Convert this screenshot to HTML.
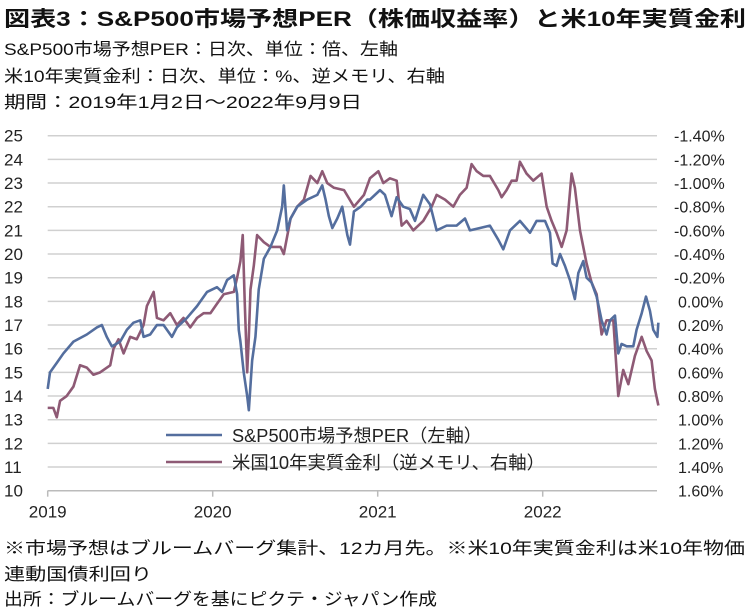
<!DOCTYPE html>
<html><head><meta charset="utf-8"><style>
body{margin:0;background:#fff;width:756px;height:608px;overflow:hidden;font-family:"Liberation Sans","Noto Sans CJK JP",sans-serif;color:#111}
.t{position:absolute;white-space:nowrap;transform-origin:0 0}
</style></head><body>
<div class="t" data-fit="742" style="left:4px;top:3px;font-size:21px;font-weight:bold">図表3：S&amp;P500市場予想PER（株価収益率）と米10年実質金利</div>
<div class="t" data-fit="394" style="left:4px;top:35px;font-size:17px">S&amp;P500市場予想PER：日次、単位：倍、左軸</div>
<div class="t" data-fit="441" style="left:4px;top:62px;font-size:17px">米10年実質金利：日次、単位：%、逆メモリ、右軸</div>
<div class="t" data-fit="358" style="left:4px;top:88px;font-size:17px">期間：2019年1月2日～2022年9月9日</div>
<div class="t" data-fit="741" style="left:4px;top:534px;font-size:17px">※市場予想はブルームバーグ集計、12カ月先。※米10年実質金利は米10年物価</div>
<div class="t" data-fit="148" style="left:4px;top:560px;font-size:17px">連動国債利回り</div>
<div class="t" data-fit="433" style="left:4px;top:585px;font-size:17px">出所：ブルームバーグを基にピクテ・ジャパン作成</div>
<svg id="chart" width="756" height="608" style="position:absolute;left:0;top:0" font-family="Liberation Sans, Noto Sans CJK JP, sans-serif"></svg>
<script>
const leftTicks=[10,11,12,13,14,15,16,17,18,19,20,21,22,23,24,25];
const rightTicks=[1.6,1.4,1.2,1.0,0.8,0.6,0.4,0.2,0.0,-0.2,-0.4,-0.6,-0.8,-1.0,-1.2,-1.4];
const yearTicks=[2019,2020,2021,2022];
const perDates=[2019,2019.014,2019.055,2019.095,2019.156,2019.237,2019.298,2019.328,2019.358,2019.389,2019.439,2019.480,2019.520,2019.561,2019.581,2019.621,2019.662,2019.702,2019.753,2019.783,2019.844,2019.905,2019.966,2020.026,2020.057,2020.087,2020.128,2020.148,2020.158,2020.168,2020.188,2020.209,2020.219,2020.239,2020.259,2020.279,2020.310,2020.350,2020.391,2020.421,2020.431,2020.451,2020.472,2020.512,2020.573,2020.634,2020.664,2020.684,2020.704,2020.725,2020.755,2020.785,2020.816,2020.832,2020.856,2020.897,2020.937,2020.953,2021.014,2021.044,2021.084,2021.115,2021.155,2021.195,2021.226,2021.276,2021.317,2021.357,2021.418,2021.478,2021.529,2021.559,2021.620,2021.680,2021.731,2021.761,2021.802,2021.862,2021.923,2021.963,2022.014,2022.044,2022.060,2022.084,2022.105,2022.135,2022.165,2022.195,2022.216,2022.246,2022.266,2022.296,2022.327,2022.357,2022.387,2022.408,2022.438,2022.458,2022.478,2022.509,2022.549,2022.569,2022.600,2022.626,2022.650,2022.670,2022.695,2022.701];
const perValues=[14.3,15.0,15.4,15.8,16.3,16.6,16.9,17.0,16.5,16.1,16.3,16.8,17.1,17.2,16.5,16.6,17.0,17.0,16.5,16.9,17.3,17.8,18.4,18.6,18.4,18.9,19.1,18.3,16.8,16.3,15.0,14.0,13.4,15.5,16.5,18.5,19.8,20.3,21.0,22.0,22.9,21.0,21.5,22.0,22.3,22.5,22.9,22.3,21.6,21.1,21.5,22.0,20.8,20.4,21.8,22.0,22.3,22.3,22.7,22.5,21.6,22.4,22.0,21.9,21.4,22.5,22.1,21.0,21.2,21.2,21.5,21.0,21.1,21.2,20.6,20.2,21.0,21.4,20.9,21.4,21.4,20.9,19.6,19.5,20.0,19.5,18.9,18.1,19.2,19.7,19.0,18.8,18.2,17.2,16.6,17.2,17.4,15.8,16.2,16.1,16.1,16.8,17.5,18.2,17.6,16.8,16.5,17.1];
const rateDates=[2019,2019.034,2019.055,2019.075,2019.115,2019.156,2019.196,2019.237,2019.277,2019.318,2019.379,2019.399,2019.429,2019.460,2019.500,2019.540,2019.581,2019.601,2019.642,2019.662,2019.702,2019.743,2019.783,2019.823,2019.864,2019.905,2019.945,2019.986,2020.026,2020.067,2020.128,2020.148,2020.168,2020.182,2020.194,2020.209,2020.219,2020.229,2020.249,2020.269,2020.310,2020.350,2020.411,2020.431,2020.472,2020.512,2020.553,2020.593,2020.634,2020.664,2020.694,2020.735,2020.796,2020.856,2020.917,2020.953,2021.004,2021.034,2021.074,2021.115,2021.145,2021.175,2021.216,2021.276,2021.327,2021.357,2021.408,2021.458,2021.498,2021.539,2021.569,2021.600,2021.640,2021.680,2021.731,2021.751,2021.781,2021.812,2021.842,2021.862,2021.902,2021.943,2021.993,2022.024,2022.054,2022.084,2022.115,2022.145,2022.175,2022.195,2022.226,2022.266,2022.296,2022.327,2022.357,2022.387,2022.428,2022.458,2022.488,2022.519,2022.559,2022.600,2022.630,2022.660,2022.680,2022.701];
const rateValues=[0.90,0.90,0.98,0.84,0.80,0.72,0.54,0.56,0.62,0.60,0.54,0.40,0.32,0.44,0.30,0.32,0.20,0.04,-0.08,0.14,0.16,0.10,0.20,0.14,0.22,0.14,0.10,0.10,0.02,-0.06,-0.08,-0.20,-0.34,-0.56,0.00,0.60,0.30,-0.10,-0.30,-0.56,-0.50,-0.46,-0.46,-0.40,-0.70,-0.80,-0.86,-1.06,-1.00,-1.10,-1.00,-0.96,-0.94,-0.80,-0.90,-1.04,-1.10,-1.00,-1.04,-1.02,-0.64,-0.68,-0.60,-0.68,-0.80,-0.90,-0.86,-0.80,-0.90,-0.96,-1.16,-1.10,-1.06,-1.06,-0.94,-0.88,-0.94,-1.02,-1.02,-1.18,-1.08,-1.02,-1.08,-0.80,-0.68,-0.58,-0.46,-0.60,-1.08,-0.96,-0.60,-0.32,-0.16,-0.06,0.28,0.16,0.16,0.80,0.58,0.70,0.46,0.30,0.42,0.50,0.74,0.88];
const NS='http://www.w3.org/2000/svg';
const svg=document.getElementById('chart');
const X0=47.7,PXY=165,Y25=135.7,Y10=490.7,XEND=657;
const xs=d=>X0+(d-2019)*PXY;
const yL=v=>Y10-(v-10)*(Y10-Y25)/15;
const yR=v=>Y25+(v+1.4)*(Y10-Y25)/3;
function mk(tag,attrs,parent){const e=document.createElementNS(NS,tag);for(const k in attrs)e.setAttribute(k,attrs[k]);(parent||svg).appendChild(e);return e;}
leftTicks.forEach(v=>{
  const g=mk('line',{x1:X0,x2:XEND,y1:yL(v),y2:yL(v),stroke:'#d0d0d0','stroke-width':1.5});
  
  
  const t=mk('text',{x:4,y:yL(v)+6,'font-size':17,fill:'#222'});t.textContent=v;
  
  
});
rightTicks.forEach(v=>{
  const t=mk('text',{x:v<0?674:678,y:yR(v)+6,'font-size':16,fill:'#222'});t.textContent=v.toFixed(2)+'%';
  
  
});
const ax=mk('line',{x1:X0,x2:XEND,y1:Y10,y2:Y10,stroke:'#bbb','stroke-width':1.5});


yearTicks.forEach(y=>{
  mk('line',{x1:xs(y),x2:xs(y),y1:Y10,y2:Y10+6,stroke:'#bbb','stroke-width':1.5});
  const t=mk('text',{x:xs(y),y:Y10+27,'font-size':17,'text-anchor':'middle',fill:'#222'});t.textContent=y;
  
  
});
const rp=mk('polyline',{points:rateDates.map((d,i)=>xs(d)+','+yR(rateValues[i])).join(' '),fill:'none',stroke:'#8e5a75','stroke-width':2.6,'stroke-linejoin':'round'});


const bp=mk('polyline',{points:perDates.map((d,i)=>xs(d)+','+yL(perValues[i])).join(' '),fill:'none',stroke:'#546e9e','stroke-width':2.6,'stroke-linejoin':'round'});


[['S&P500市場予想PER（左軸）','#546e9e',435,250],['米国10年実質金利（逆メモリ、右軸）','#8e5a75',462,313]].forEach((l,i)=>{
  mk('line',{x1:166,x2:222,y1:l[2],y2:l[2],stroke:l[1],'stroke-width':2.6});
  const t=mk('text',{x:232,y:l[2]+7,'font-size':18,fill:'#222',textLength:l[3],lengthAdjust:'spacingAndGlyphs'});t.textContent=l[0];
  
  
});
document.querySelectorAll('[data-fit]').forEach(el=>{
  const w=el.getBoundingClientRect().width;const target=+el.getAttribute('data-fit');
  el.style.transform='scaleX('+(target/w)+')';
});
</script>
</body></html>
